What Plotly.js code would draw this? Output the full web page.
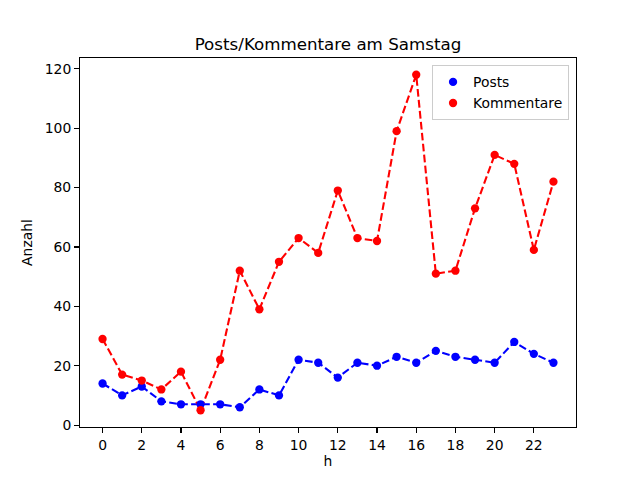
<!DOCTYPE html>
<html>
<head>
<meta charset="utf-8">
<script src="https://cdn.plot.ly/plotly-3.0.1.min.js"></script>
<style>body{margin:0;} #plot{width:640px;height:480px;}</style>
</head>
<body>
<div id="plot"></div>
<script>
// Stunden 0..23
var hours = [0, 1, 2, 3, 4, 5, 6, 7, 8, 9, 10, 11, 12, 13, 14, 15, 16, 17, 18, 19, 20, 21, 22, 23];
var posts = [14, 10, 13, 8, 7, 7, 7, 6, 12, 10, 22, 21, 16, 21, 20, 23, 21, 25, 23, 22, 21, 28, 24, 21];
var kommentare = [29, 17, 15, 12, 18, 5, 22, 52, 39, 55, 63, 58, 79, 63, 62, 99, 118, 51, 52, 73, 91, 88, 59, 82];
var xTicks = [0, 2, 4, 6, 8, 10, 12, 14, 16, 18, 20, 22];
var yTicks = [0, 20, 40, 60, 80, 100, 120];

try {
  var dash = '7.7px,3.3px';

  var postsLine = {
    x: hours, y: posts, mode: 'lines', showlegend: false, hoverinfo: 'skip',
    line: {color: 'blue', width: 2.1, dash: dash}
  };
  var kommLine = {
    x: hours, y: kommentare, mode: 'lines', showlegend: false, hoverinfo: 'skip',
    line: {color: 'red', width: 2.1, dash: dash}
  };
  var postsPts = {
    x: hours, y: posts, mode: 'markers', name: 'Posts',
    marker: {color: 'blue', size: 8.3}
  };
  var kommPts = {
    x: hours, y: kommentare, mode: 'markers', name: 'Kommentare',
    marker: {color: 'red', size: 8.3}
  };

  var data = [postsLine, kommLine, postsPts, kommPts];

  var axisStyle = {
    showgrid: false, zeroline: false,
    showline: true, mirror: true, linecolor: 'black', linewidth: 1.1,
    ticks: 'outside', ticklen: 4.9, tickwidth: 1.1, tickcolor: 'black',
    tickfont: {size: 13.9, color: 'black'}
  };

  var layout = {
    width: 640, height: 480, autosize: false,
    margin: {l: 80, r: 64, t: 57.6, b: 52.8},
    paper_bgcolor: 'white', plot_bgcolor: 'white',
    font: {family: 'DejaVu Sans', color: 'black', size: 13.9},
    title: {
      text: 'Posts/Kommentare am Samstag',
      font: {size: 16.7, color: 'black'},
      x: 0.5125, xanchor: 'center',
      y: 0.908, yanchor: 'middle', yref: 'container'
    },
    xaxis: Object.assign({}, axisStyle, {
      range: [-1.15, 24.15],
      tickvals: xTicks,
      title: {text: 'h', font: {size: 13.9}, standoff: 4}
    }),
    yaxis: Object.assign({}, axisStyle, {
      range: [-0.65, 123.65],
      tickvals: yTicks,
      title: {text: 'Anzahl', font: {size: 13.9}, standoff: 8}
    }),
    legend: {
      x: 0.986, y: 0.98, xanchor: 'right', yanchor: 'top',
      bgcolor: 'rgba(255,255,255,0.8)', bordercolor: '#cccccc', borderwidth: 1,
      font: {size: 13.9},
      tracegroupgap: 0
    },
    showlegend: true
  };

  Plotly.newPlot('plot', data, layout, {displayModeBar: false, staticPlot: true});
} catch (e) {
  console.log('failed');
  console.log(e);
}
</script>
</body>
</html>
